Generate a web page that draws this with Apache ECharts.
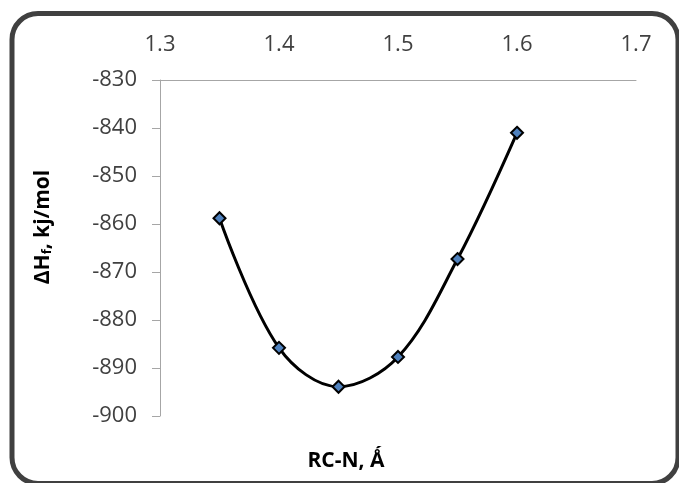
<!DOCTYPE html>
<html>
<head>
<meta charset="utf-8">
<script src="https://cdn.jsdelivr.net/npm/echarts@6/dist/echarts.min.js"></script>
<style>html,body{margin:0;padding:0;background:#fff;}#c{width:679px;height:483px;}</style>
</head>
<body>
<div id="c"></div>
<script>
const bondLengths = [1.35, 1.40, 1.45, 1.50, 1.55, 1.60];
const heatValues = [-858.8, -885.8, -893.9, -887.7, -867.3, -841.0];
const xTitle = 'RC-N, \u01FA';
const yTitleMain = '\u0394H';
const yTitleSub = 'f';
const yTitleRest = ', kj/mol';

const chart = echarts.init(document.getElementById('c'));
const FONT = 'Open Sans';
chart.setOption({
  animation: false,
  backgroundColor: '#fff',
  grid: { left: 160, right: 43, top: 80, bottom: 67, containLabel: false },
  xAxis: {
    type: 'value', min: 1.3, max: 1.7, interval: 0.1, position: 'top',
    axisLine: { show: true, onZero: false, lineStyle: { color: '#a6a6a6', width: 1 } },
    axisTick: { show: false },
    splitLine: { show: false },
    axisLabel: { margin: 24, fontFamily: FONT, fontSize: 22, color: '#404040', formatter: v => v.toFixed(1) }
  },
  yAxis: {
    type: 'value', min: -900, max: -830, interval: 10,
    axisLine: { show: true, onZero: false, lineStyle: { color: '#a6a6a6', width: 1 } },
    axisTick: { show: true, length: 8, lineStyle: { color: '#a6a6a6' } },
    splitLine: { show: false },
    axisLabel: { margin: 23, fontFamily: FONT, fontSize: 22, color: '#404040' }
  },
  series: [{
    type: 'line',
    data: bondLengths.map((x, i) => [x, heatValues[i]]),
    smooth: 0.35,
    lineStyle: { color: '#000', width: 3 },
    symbol: 'diamond', symbolSize: 12,
    itemStyle: { color: '#4F81BD', borderColor: '#000', borderWidth: 2 }
  }],
  graphic: [
    { type: 'rect', shape: { x: 12, y: 13.5, width: 666, height: 470, r: 26 },
      style: { fill: 'none', stroke: '#404040', lineWidth: 5 }, z: 100 },
    { type: 'text', x: 346, y: 461,
      style: { text: xTitle, font: 'bold 21px "Open Sans"', fill: '#000', align: 'center', verticalAlign: 'middle' } },
    { type: 'text', x: 41, y: 227, rotation: Math.PI / 2,
      style: {
        text: '{a|' + yTitleMain + '}{b|' + yTitleSub + '}{a|' + yTitleRest + '}',
        align: 'center', verticalAlign: 'middle', fill: '#000',
        rich: {
          a: { fontFamily: FONT, fontWeight: 'bold', fontSize: 21, fill: '#000', lineHeight: 26, verticalAlign: 'bottom' },
          b: { fontFamily: FONT, fontWeight: 'bold', fontSize: 13, fill: '#000', lineHeight: 22, verticalAlign: 'bottom' }
        }
      } }
  ]
});
</script>
</body>
</html>
